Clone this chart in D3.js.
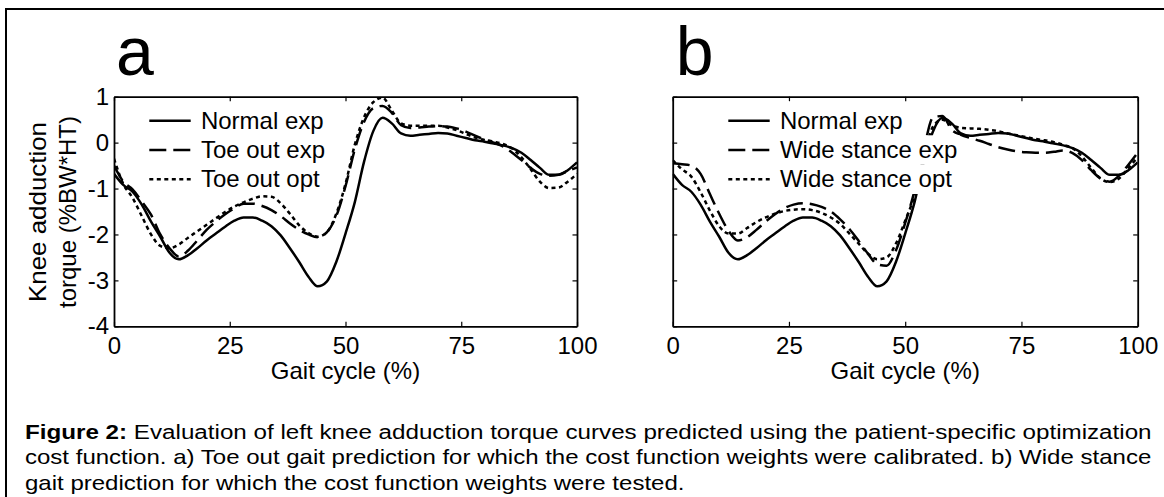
<!DOCTYPE html>
<html>
<head>
<meta charset="utf-8">
<script src="https://d3js.org/d3.v7.min.js"></script>
<style>
  body { margin: 0; background: #fff; }
  svg text { font-family: "Liberation Sans", Arial, sans-serif; fill: #000; }
</style>
</head>
<body>
<svg id="fig" width="1164" height="497"></svg>
<script>
// gait cycle samples (%) and knee adduction torque (%BW*HT)
const gait = [0,2,4,6,8,10,12,14,16,18,20,22,24,26,28,30,32,34,36,38,40,42,44,46,48,50,
              52,54,56,58,60,62,64,66,68,70,72,74,76,78,80,82,84,86,88,90,92,94,96,98,100];

const normalExp = [-0.68,-0.92,-1.07,-1.35,-1.72,-2.05,-2.4,-2.54,-2.45,-2.3,-2.13,-1.98,-1.83,-1.7,-1.63,-1.63,-1.7,-1.82,-2.02,-2.3,-2.6,-2.92,-3.13,-3.02,-2.6,-1.98,
                   -1.3,-0.42,0.25,0.54,0.42,0.2,0.15,0.17,0.19,0.21,0.2,0.15,0.1,0.05,0.02,-0.02,-0.06,-0.12,-0.22,-0.38,-0.55,-0.7,-0.7,-0.6,-0.43];

const toeOutExp = [-0.5,-0.85,-1.02,-1.28,-1.57,-2.0,-2.3,-2.48,-2.35,-2.13,-1.9,-1.72,-1.56,-1.43,-1.33,-1.33,-1.38,-1.47,-1.6,-1.76,-1.9,-2.0,-2.06,-1.95,-1.6,-0.95,
                   -0.15,0.45,0.75,0.8,0.65,0.38,0.32,0.33,0.35,0.36,0.35,0.31,0.24,0.15,0.07,0.0,-0.08,-0.22,-0.38,-0.55,-0.68,-0.72,-0.7,-0.62,-0.54];

const toeOutOpt = [-0.35,-0.9,-1.2,-1.6,-2.0,-2.25,-2.3,-2.22,-2.07,-1.93,-1.79,-1.65,-1.51,-1.39,-1.3,-1.22,-1.17,-1.18,-1.32,-1.55,-1.8,-1.97,-2.05,-1.95,-1.55,-0.9,
                   -0.05,0.55,0.88,0.98,0.7,0.42,0.37,0.37,0.37,0.37,0.33,0.27,0.19,0.11,0.06,0.02,-0.03,-0.13,-0.32,-0.58,-0.85,-0.99,-0.98,-0.85,-0.68];

const wideExp = [-0.45,-0.47,-0.5,-0.68,-1.12,-1.55,-1.92,-2.13,-2.06,-1.9,-1.72,-1.56,-1.43,-1.35,-1.32,-1.34,-1.4,-1.5,-1.67,-1.88,-2.14,-2.42,-2.65,-2.68,-2.35,-1.75,
                 -1.05,-0.15,0.55,0.58,0.28,0.17,0.1,0.04,-0.03,-0.1,-0.15,-0.19,-0.21,-0.22,-0.22,-0.2,-0.17,-0.23,-0.38,-0.6,-0.78,-0.85,-0.72,-0.48,-0.22];

const wideOpt = [-0.38,-0.58,-0.74,-1.08,-1.48,-1.82,-1.98,-1.98,-1.86,-1.73,-1.63,-1.55,-1.49,-1.46,-1.45,-1.47,-1.53,-1.63,-1.77,-1.98,-2.2,-2.42,-2.54,-2.5,-2.2,-1.7,
                 -1.15,-0.3,0.35,0.5,0.38,0.32,0.31,0.3,0.28,0.25,0.2,0.16,0.12,0.08,0.05,0.01,-0.05,-0.12,-0.3,-0.55,-0.78,-0.86,-0.78,-0.55,-0.32];

const xTicks = [0, 25, 50, 75, 100];
const yTicks = [1, 0, -1, -2, -3, -4];

const namesA = ["Normal exp", "Toe out exp", "Toe out opt"];
const namesB = ["Normal exp", "Wide stance exp", "Wide stance opt"];

const caption = [
  ["Figure 2:", " Evaluation of left knee adduction torque curves predicted using the patient-specific optimization"],
  ["", "cost function. a) Toe out gait prediction for which the cost function weights were calibrated. b) Wide stance"],
  ["", "gait prediction for which the cost function weights were tested."]
];

const svg = d3.select("#fig");

// outer frame (top and left only visible)
svg.append("line").attr("x1", 6).attr("x2", 1164).attr("y1", 9).attr("y2", 9)
  .attr("stroke", "#000").attr("stroke-width", 2);
svg.append("line").attr("x1", 6).attr("x2", 6).attr("y1", 8).attr("y2", 497)
  .attr("stroke", "#000").attr("stroke-width", 2);

const dashes = [null, "17,7", "4,3.5"];
const plotTop = 96.7, plotBottom = 326.3;

function drawPanel(id, left, right, series, names, letter, showYLabels, legendX) {
  const x = d3.scaleLinear().domain([0, 100]).range([left, right]);
  const y = d3.scaleLinear().domain([-4, 1]).range([plotBottom, plotTop]);
  const g = svg.append("g");

  g.append("clipPath").attr("id", "clip" + id)
    .append("rect").attr("x", left).attr("y", plotTop).attr("width", right - left).attr("height", plotBottom - plotTop);

  const line = d3.line().x((d, i) => x(gait[i])).y(d => y(d)).curve(d3.curveMonotoneX);

  series.forEach((s, i) => {
    g.append("path")
      .attr("d", line(s))
      .attr("fill", "none")
      .attr("stroke", "#000")
      .attr("stroke-width", 2.5)
      .attr("stroke-dasharray", dashes[i])
      .attr("clip-path", `url(#clip${id})`);
  });

  // axes: inward ticks on all four sides
  const fmt = d => d;
  const ax = [
    g.append("g").attr("transform", `translate(0,${plotBottom})`)
      .call(d3.axisBottom(x).tickValues(xTicks).tickSizeInner(-4.5).tickSizeOuter(0).tickPadding(11).tickFormat(fmt)),
    g.append("g").attr("transform", `translate(0,${plotTop})`)
      .call(d3.axisTop(x).tickValues(xTicks).tickSizeInner(-4.5).tickSizeOuter(0).tickFormat("")),
    g.append("g").attr("transform", `translate(${left},0)`)
      .call(d3.axisLeft(y).tickValues(yTicks).tickSizeInner(-4.5).tickSizeOuter(0).tickPadding(5)
        .tickFormat(showYLabels ? fmt : "")),
    g.append("g").attr("transform", `translate(${right},0)`)
      .call(d3.axisRight(y).tickValues(yTicks).tickSizeInner(-4.5).tickSizeOuter(0).tickFormat(""))
  ];
  ax.forEach(a => {
    a.attr("font-family", null).attr("font-size", 24);
    a.select(".domain").attr("stroke-width", 1.8);
    a.selectAll(".tick line").attr("stroke-width", 1.2);
  });

  g.append("text").attr("x", x(50)).attr("y", 379).attr("text-anchor", "middle")
    .attr("font-size", 24).text("Gait cycle (%)");

  g.append("text").attr("x", left + (letter === "a" ? 2 : 3)).attr("y", 75)
    .attr("font-size", 68).text(letter);

  // legend: text rows have a white background that hides the curves behind them
  names.forEach((n, i) => {
    const cy = 120.7 + i * 29.3;
    const bg = g.append("rect").attr("fill", "#fff");
    const t = g.append("text").attr("x", legendX + 51.6).attr("y", cy + 8)
      .attr("font-size", 24).text(n);
    const w = t.node().getComputedTextLength();
    bg.attr("x", legendX + 50).attr("y", cy - 14.7).attr("width", w + 4).attr("height", 29.4);
    g.append("line").attr("x1", legendX).attr("x2", legendX + 41.4).attr("y1", cy).attr("y2", cy)
      .attr("stroke", "#000").attr("stroke-width", 2.5).attr("stroke-dasharray", dashes[i]);
  });
  return g;
}

drawPanel("a", 114, 577, [normalExp, toeOutExp, toeOutOpt], namesA, "a", true, 149.3);
drawPanel("b", 672.7, 1137.7, [normalExp, wideExp, wideOpt], namesB, "b", false, 728.3);

// y axis title, two lines
["Knee adduction", "torque (%BW*HT)"].forEach((s, i) => {
  const t = svg.append("text")
    .attr("transform", `translate(${46 + i * 29.5},212) rotate(-90)`)
    .attr("text-anchor", "middle").attr("font-size", 24).text(s);
  if (i === 0) t.attr("textLength", 180).attr("lengthAdjust", "spacingAndGlyphs");
});

// caption
const capBase = [438.5, 464, 489.5];
const capW = 1127;
let sx = 1;
caption.forEach((c, i) => {
  const t = svg.append("text").attr("font-size", 20);
  if (c[0]) t.append("tspan").attr("font-weight", "bold").text(c[0]);
  t.append("tspan").text(c[1]);
  const w = t.node().getComputedTextLength();
  if (i < 2) sx = capW / w;
  t.attr("transform", `translate(25,${capBase[i]}) scale(${sx},1)`);
});
</script>
</body>
</html>
